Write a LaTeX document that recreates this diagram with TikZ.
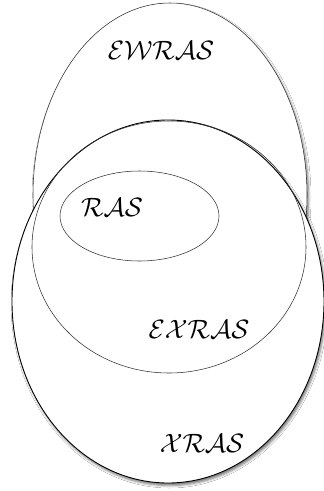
\documentclass[tikz,border=0pt]{standalone}
\usepackage{graphicx}
\usepackage{tikz}
\usetikzlibrary{shadows,shadows.blur}
\definecolor{Edge}{HTML}{333333}
\newcommand{\setname}[1]{\scalebox{2.65}{$\mathcal{#1}$}}

\begin{document}
\begin{tikzpicture}[x=1pt,y=-1pt,
    setline/.style={draw=Edge,line width=0.55pt},
    outerset/.style={setline,fill=white,blur shadow={shadow xshift=1.5pt,shadow yshift=-2.5pt,shadow blur radius=2.5pt,shadow opacity=55}},
    lbl/.style={inner sep=0pt}]
  \useasboundingbox[fill=white] (0,0) rectangle (324,491);
  % outer sets
  \draw[outerset] (170,195) ellipse [x radius=137,y radius=192];
  \draw[outerset,line width=0.9pt,draw=black] (168,301.5) ellipse [x radius=156,y radius=181.5];
  % inner sets
  \draw[setline] (169,247) ellipse [x radius=137,y radius=126];
  \draw[setline] (139.5,216) ellipse [x radius=79.5,y radius=45];
  % labels
  \node[lbl] (ewras) at (161,50) {\setname{EWRAS}};
  \node[lbl] (ras) at (112,207) {\setname{RAS}};
  \node[lbl] (exras) at (199,329) {\setname{EXRAS}};
  \node[lbl] (xras) at (202,443) {\setname{XRAS}};
\end{tikzpicture}
\end{document}
